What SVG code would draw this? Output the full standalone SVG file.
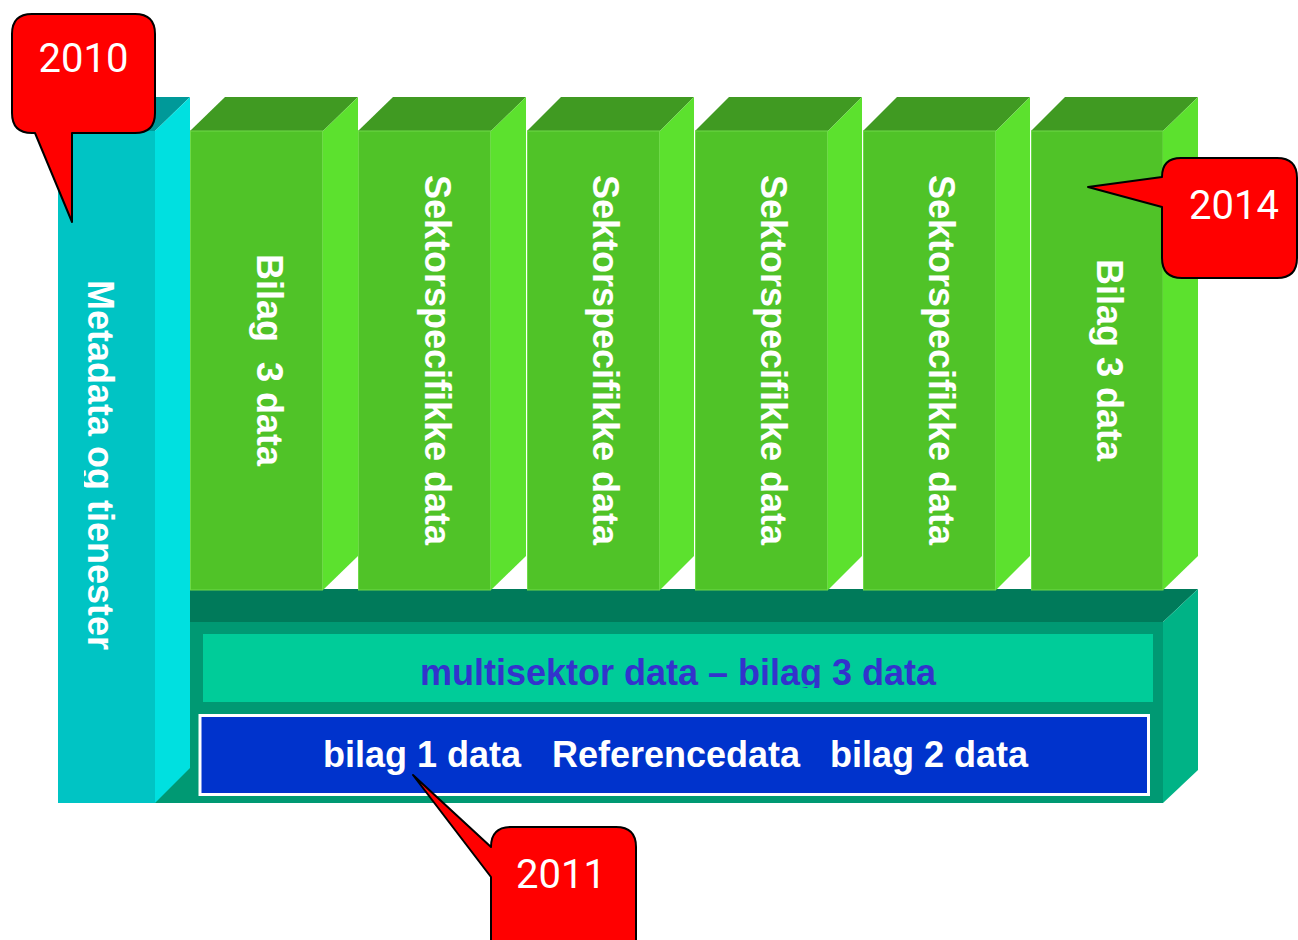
<svg xmlns="http://www.w3.org/2000/svg" width="1298" height="940" viewBox="0 0 1298 940">
<defs>
<style>
.gf{fill:#50C328;stroke:#6EDA48;stroke-width:1}
.gs{fill:#5CE12E}
.gt{fill:#409A22}
.vt{font-family:"Liberation Sans",Arial,sans-serif;font-weight:bold;font-size:36px;fill:#FFFFFF;text-anchor:middle;white-space:pre}
.ht{font-family:"Liberation Sans",Arial,sans-serif;font-weight:bold;font-size:36px}
.co{fill:#FF0000;stroke:#000000;stroke-width:2;stroke-linejoin:round}
.ct{font-family:Roboto,"Noto Sans",sans-serif;font-size:40px;fill:#FFFFFF;text-anchor:middle}
</style>
<clipPath id="clipMeta"><rect x="84" y="131" width="71" height="672"/></clipPath>
<clipPath id="clipMulti"><rect x="203" y="634" width="950" height="54"/></clipPath>
</defs>
<rect width="1298" height="940" fill="#FFFFFF"/>

<g id="base">
<polygon points="155,622 1163,622 1198,589 190,589" fill="#007A5A"/>
<rect x="155" y="622" width="1008" height="181" fill="#009973"/>
<polygon points="1163,622 1198,589 1198,770 1163,803" fill="#00B386"/>
</g>

<g id="multisektor">
<rect x="203" y="634" width="950" height="68" fill="#00CC99"/>
<text class="ht" x="678" y="685" fill="#3333CC" text-anchor="middle" clip-path="url(#clipMulti)">multisektor data – bilag 3 data</text>
</g>

<g id="referencedata">
<rect x="200" y="715.5" width="948.5" height="79" fill="#0033CC" stroke="#FFFFFF" stroke-width="3"/>
<text class="ht" y="767" fill="#FFFFFF"><tspan x="323">bilag 1 data</tspan><tspan x="552">Referencedata</tspan><tspan x="830">bilag 2 data</tspan></text>
</g>

<g id="metadata">
<polygon points="58,131 155,131 190,97 92,97" fill="#009999"/>
<rect x="58" y="131" width="97" height="672" fill="#00C4C4"/>
<polygon points="155,131 190,97 190,768 155,803" fill="#00E0E0"/>
<g clip-path="url(#clipMeta)"><text class="vt" transform="translate(88,465) rotate(90)">Metadata og tienester</text></g>
</g>

<g id="col1">
<polygon class="gt" points="190,131 323,131 358,97 225,97"/>
<rect class="gf" x="190.5" y="131" width="132" height="459"/>
<polygon class="gs" points="323,131 358,97 358,556 323,590"/>
<text class="vt" xml:space="preserve" transform="translate(257,360) rotate(90)">Bilag  3 data</text>
</g>
<g id="col2">
<polygon class="gt" points="358,131 491,131 526,97 393,97"/>
<rect class="gf" x="358.5" y="131" width="132" height="459"/>
<polygon class="gs" points="491,131 526,97 526,556 491,590"/>
<text class="vt" transform="translate(425,360) rotate(90)">Sektorspecifikke data</text>
</g>
<g id="col3">
<polygon class="gt" points="527,131 660,131 694,97 561,97"/>
<rect class="gf" x="527.5" y="131" width="132" height="459"/>
<polygon class="gs" points="660,131 694,97 694,556 660,590"/>
<text class="vt" transform="translate(593,360) rotate(90)">Sektorspecifikke data</text>
</g>
<g id="col4">
<polygon class="gt" points="695,131 828,131 862,97 729,97"/>
<rect class="gf" x="695.5" y="131" width="132" height="459"/>
<polygon class="gs" points="828,131 862,97 862,556 828,590"/>
<text class="vt" transform="translate(761,360) rotate(90)">Sektorspecifikke data</text>
</g>
<g id="col5">
<polygon class="gt" points="863,131 996,131 1030,97 897,97"/>
<rect class="gf" x="863.5" y="131" width="132" height="459"/>
<polygon class="gs" points="996,131 1030,97 1030,556 996,590"/>
<text class="vt" transform="translate(929,360) rotate(90)">Sektorspecifikke data</text>
</g>
<g id="col6">
<polygon class="gt" points="1031,131 1163,131 1198,97 1065,97"/>
<rect class="gf" x="1031.5" y="131" width="131.5" height="459"/>
<polygon class="gs" points="1163,131 1198,97 1198,556 1163,590"/>
<text class="vt" transform="translate(1097,360) rotate(90)">Bilag 3 data</text>
</g>

<g id="connectors"></g>

<g id="callout2010">
<path class="co" d="M32,14 H135 Q155,14 155,34 V113 Q155,133 135,133 H72 V222 L35,133 H32 Q12,133 12,113 V34 Q12,14 32,14 Z"/>
<text class="ct" x="83.5" y="72">2010</text>
</g>
<g id="callout2014">
<path class="co" d="M1181,158 H1277 Q1297,158 1297,178 V258 Q1297,278 1277,278 H1182 Q1162,278 1162,258 V207 L1088,187 L1162,177 Q1162,158 1181,158 Z"/>
<text class="ct" x="1234" y="219">2014</text>
</g>
<g id="callout2011">
<path class="co" d="M511,827 H616 Q636,827 636,847 V950 H491 V877 L413,775 L491,847 Q491,827 511,827 Z"/>
<text class="ct" x="561" y="888">2011</text>
</g>
</svg>
